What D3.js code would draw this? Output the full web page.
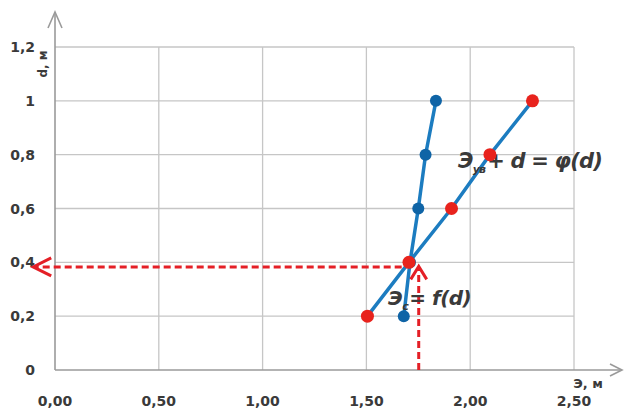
<!DOCTYPE html>
<html>
<head>
<meta charset="utf-8">
<script src="https://cdn.jsdelivr.net/npm/d3@7/dist/d3.min.js"></script>
<style>
  html, body { margin: 0; padding: 0; background: #fff; }
  svg { display: block; }
  text { font-family: "DejaVu Sans", Verdana, sans-serif; }
</style>
</head>
<body>
<svg id="chart" width="625" height="410"></svg>
<script>
// ---- data ----
const dValues = [0.2, 0.4, 0.6, 0.8, 1.0];
const eFd = [1.68, 1.71, 1.75, 1.785, 1.835];        // Э = f(d)
const ePhi = [1.505, 1.705, 1.91, 2.095, 2.30];      // Э_ув + d = φ(d)
const xTicks = [0, 0.5, 1.0, 1.5, 2.0, 2.5];
const xTickLabels = ["0,00", "0,50", "1,00", "1,50", "2,00", "2,50"];
const yTicks = [0, 0.2, 0.4, 0.6, 0.8, 1.0, 1.2];
const yTickLabels = ["0", "0,2", "0,4", "0,6", "0,8", "1", "1,2"];
// guide (red dashed) lines: horizontal to d axis, vertical to Э axis
const guideH = { d: 0.383, eFrom: 1.67, eTo: -0.105 };
const guideV = { e: 1.752, dFrom: 0, dTo: 0.385 };

// ---- layout ----
const svg = d3.select("#chart");
const x = d3.scaleLinear().domain([0, 2.5]).range([55, 574]);
const y = d3.scaleLinear().domain([0, 1.2]).range([370, 47]);

const gridColor = "#c6c6c6";
const axisColor = "#9a9a9a";
const textColor = "#3a3a3a";
const lineBlue = "#1c7cc0";
const dotBlue = "#0f64a6";
const dotRed = "#e8231d";
const guideRed = "#e41f26";

// gridlines
svg.append("g").selectAll("line.h").data(yTicks.filter(v => v > 0)).join("line")
  .attr("x1", x(0)).attr("x2", x(2.5))
  .attr("y1", d => y(d)).attr("y2", d => y(d))
  .attr("stroke", gridColor).attr("stroke-width", 1.3);
svg.append("g").selectAll("line.v").data(xTicks.filter(v => v > 0)).join("line")
  .attr("y1", y(0)).attr("y2", y(1.2))
  .attr("x1", d => x(d)).attr("x2", d => x(d))
  .attr("stroke", gridColor).attr("stroke-width", 1.3);

// axes with arrows
const axG = svg.append("g").attr("stroke", axisColor).attr("stroke-width", 1.6).attr("fill", "none");
axG.append("line").attr("x1", x(0)).attr("x2", 622).attr("y1", y(0)).attr("y2", y(0));
axG.append("line").attr("x1", x(0)).attr("x2", x(0)).attr("y1", y(0)).attr("y2", 12);
axG.append("path").attr("d", `M${x(0)-7},${28}L${x(0)},${12}L${x(0)+7},${28}`);
axG.append("path").attr("d", `M610,${y(0)-6}L622,${y(0)}L610,${y(0)+6}`);

// tick labels
svg.append("g").selectAll("text").data(xTicks).join("text")
  .attr("x", d => x(d)).attr("y", 406)
  .attr("text-anchor", "middle")
  .attr("font-size", 14).attr("font-weight", "bold").attr("fill", textColor)
  .text((d, i) => xTickLabels[i]);
svg.append("g").selectAll("text").data(yTicks).join("text")
  .attr("x", 35).attr("y", d => y(d) + 5)
  .attr("text-anchor", "end")
  .attr("font-size", 14).attr("font-weight", "bold").attr("fill", textColor)
  .text((d, i) => yTickLabels[i]);

// axis titles
svg.append("text").attr("transform", "translate(47,64) rotate(-90)")
  .attr("text-anchor", "middle").attr("font-size", 12).attr("font-weight", "bold")
  .attr("fill", textColor).text("d, м");
svg.append("text").attr("x", 588).attr("y", 388)
  .attr("text-anchor", "middle").attr("font-size", 13).attr("font-weight", "bold")
  .attr("fill", textColor).text("Э, м");

// series lines
const lineFd = d3.line().x((d, i) => x(eFd[i])).y(d => y(d));
const linePhi = d3.line().x((d, i) => x(ePhi[i])).y(d => y(d));
svg.append("path").attr("d", linePhi(dValues)).attr("fill", "none")
  .attr("stroke", lineBlue).attr("stroke-width", 3.5);
svg.append("path").attr("d", lineFd(dValues)).attr("fill", "none")
  .attr("stroke", lineBlue).attr("stroke-width", 3.5);

// guide dashed lines
const gG = svg.append("g").attr("stroke", guideRed).attr("stroke-width", 3).attr("fill", "none");
gG.append("line").attr("x1", x(guideH.eFrom)).attr("x2", x(guideH.eTo) + 2)
  .attr("y1", y(guideH.d)).attr("y2", y(guideH.d)).attr("stroke-dasharray", "7,4");
gG.append("path").attr("d",
  `M${x(guideH.eTo)+18},${y(guideH.d)-9}L${x(guideH.eTo)},${y(guideH.d)}L${x(guideH.eTo)+18},${y(guideH.d)+9}`);
gG.append("line").attr("x1", x(guideV.e)).attr("x2", x(guideV.e))
  .attr("y1", y(guideV.dFrom)).attr("y2", y(guideV.dTo) + 2).attr("stroke-dasharray", "7,4");
gG.append("path").attr("d",
  `M${x(guideV.e)-8},${y(guideV.dTo)+13}L${x(guideV.e)},${y(guideV.dTo)}L${x(guideV.e)+8},${y(guideV.dTo)+13}`);

// annotations
const t1 = svg.append("text").attr("x", 458).attr("y", 168)
  .attr("font-size", 21).attr("font-weight", "bold").attr("font-style", "italic")
  .attr("fill", textColor).attr("letter-spacing", -0.8);
t1.append("tspan").text("Э");
t1.append("tspan").attr("font-size", 11).attr("dy", 5).text("ув");
t1.append("tspan").attr("dy", -5).attr("dx", 2).text("+ d = φ(d)");

const t2 = svg.append("text").attr("x", 388).attr("y", 305)
  .attr("font-size", 20).attr("font-weight", "bold").attr("font-style", "italic")
  .attr("fill", textColor).attr("letter-spacing", -0.5);
t2.append("tspan").text("Э");
t2.append("tspan").attr("font-size", 11).attr("dy", 5).text("с");
t2.append("tspan").attr("dy", -5).attr("dx", 1).text("= f(d)");

// markers
svg.append("g").selectAll("circle").data(dValues).join("circle")
  .attr("cx", (d, i) => x(eFd[i])).attr("cy", d => y(d)).attr("r", 6)
  .attr("fill", dotBlue);
svg.append("g").selectAll("circle").data(dValues).join("circle")
  .attr("cx", (d, i) => x(ePhi[i])).attr("cy", d => y(d)).attr("r", 6.5)
  .attr("fill", dotRed);
</script>
</body>
</html>
